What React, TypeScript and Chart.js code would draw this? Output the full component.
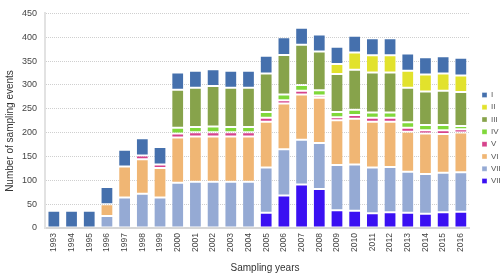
import React, { useEffect, useRef } from "react";
import { Chart, registerables } from "chart.js";

Chart.register(...registerables);

const years = ["1993","1994","1995","1996","1997","1998","1999","2000","2001","2002","2003","2004","2005","2006","2007","2008","2009","2010","2011","2012","2013","2014","2015","2016"];

const seriesNames = ["I", "II", "III", "IV", "V", "VI", "VII", "VIII"];
const seriesColors = ["#4570AD", "#E2E22C", "#87A34B", "#80D83A", "#D6438C", "#F0B674", "#95AAD4", "#3A10F2"];

const valI =    [36, 36, 36, 36, 35, 36, 37, 36, 36, 35, 36, 36, 37, 37, 36, 36, 36, 35, 36, 36, 36, 36, 36, 37];
const valII =   [0, 0, 0, 0, 0, 0, 0, 0, 0, 0, 0, 0, 0, 0, 0, 0, 21, 36, 36, 36, 36, 36, 36, 35];
const valIII =  [0, 0, 0, 0, 0, 0, 0, 80, 82, 85, 82, 82, 81, 83, 84, 81, 80, 84, 84, 84, 72, 70, 72, 71];
const valIV =   [0, 0, 0, 0, 0, 0, 0, 12, 11, 12, 11, 11, 12, 12, 12, 11, 11, 11, 11, 11, 12, 11, 11, 7];
const valV =    [0, 0, 0, 0, 0, 8, 7, 8, 9, 9, 9, 9, 8, 7, 8, 5, 6, 8, 8, 8, 8, 7, 8, 7];
const valVI =   [0, 0, 0, 25, 65, 72, 62, 95, 95, 95, 95, 95, 96, 96, 95, 95, 94, 96, 96, 95, 84, 85, 81, 83];
const valVII =  [0, 0, 0, 25, 64, 72, 64, 95, 97, 97, 97, 97, 95, 97, 94, 96, 95, 97, 96, 95, 86, 83, 83, 83];
const valVIII = [0, 0, 0, 0, 0, 0, 0, 0, 0, 0, 0, 0, 32, 68, 91, 82, 37, 36, 31, 33, 32, 30, 33, 34];

const yTicks = [0, 50, 100, 150, 200, 250, 300, 350, 400, 450];

const xTitle = "Sampling years";
const yTitle = "Number of sampling events";

const FONT = "'Liberation Sans', Arial, sans-serif";

const titlesPlugin = {
  id: "axisTitles",
  afterLayout(chart: any) {
    const lg = chart.legend;
    if (lg) {
      const w = lg.width;
      lg.left = 477.7;
      lg.right = lg.left + w;
    }
  },
  afterDraw(chart: any) {
    const ctx = chart.ctx;
    ctx.save();
    ctx.fillStyle = "#333";
    ctx.font = `10px ${FONT}`;
    ctx.textAlign = "center";
    ctx.textBaseline = "middle";
    ctx.fillText(xTitle, 265, 268);
    ctx.translate(10, 131);
    ctx.rotate(-Math.PI / 2);
    ctx.fillText(yTitle, 0, 0);
    ctx.restore();
  },
};

export default function App() {
  const ref = useRef<HTMLCanvasElement | null>(null);

  useEffect(() => {
    document.body.style.margin = "0";
    const values = [valI, valII, valIII, valIV, valV, valVI, valVII, valVIII];
    const datasets = seriesNames.map((name, i) => ({
      label: name,
      data: values[i],
      backgroundColor: seriesColors[i],
      borderColor: "rgba(255,255,255,0.35)",
      borderWidth: 1,
      borderSkipped: false as const,
      stack: "s",
    }));
    // first dataset is stacked at the bottom: VIII at bottom, I on top
    const drawSets = datasets.slice().reverse();

    const chart = new Chart(ref.current as HTMLCanvasElement, {
      type: "bar",
      data: { labels: years, datasets: drawSets },
      plugins: [titlesPlugin],
      options: {
        animation: false,
        responsive: false,
        maintainAspectRatio: false,
        layout: { padding: { top: -2, right: -5, left: 0, bottom: 0 } },
        plugins: {
          tooltip: { enabled: false },
          legend: {
            position: "right",
            reverse: true,
            labels: {
              boxWidth: 5,
              boxHeight: 5,
              padding: 4.3,
              color: "#555",
              font: { family: FONT, size: 8 },
            },
          },
        },
        scales: {
          x: {
            stacked: true,
            grid: { display: false, drawTicks: false },
            border: { color: "#d6d6d6", width: 2 },
            categoryPercentage: 1,
            barPercentage: 0.66,
            ticks: {
              minRotation: 90,
              maxRotation: 90,
              color: "#444",
              padding: 5,
              font: { family: FONT, size: 8.5 },
            },
            afterFit: (s: any) => { s.height = 50; },
          } as any,
          y: {
            stacked: true,
            min: 0,
            max: 450,
            afterBuildTicks: (s: any) => { s.ticks = yTicks.map((v) => ({ value: v })); },
            grid: { color: "#cfcfcf", drawTicks: false, lineWidth: 1 },
            border: { color: "#e2e2e2", width: 2, dash: [1, 1] },
            ticks: {
              color: "#444",
              padding: 8,
              font: { family: FONT, size: 9 },
            },
            afterFit: (s: any) => { s.width = 45; },
          } as any,
        },
      } as any,
    });
    return () => chart.destroy();
  }, []);

  return (
    <div style={{ width: 500, height: 278 }}>
      <canvas ref={ref} width={500} height={278} style={{ display: "block" }} />
    </div>
  );
}
